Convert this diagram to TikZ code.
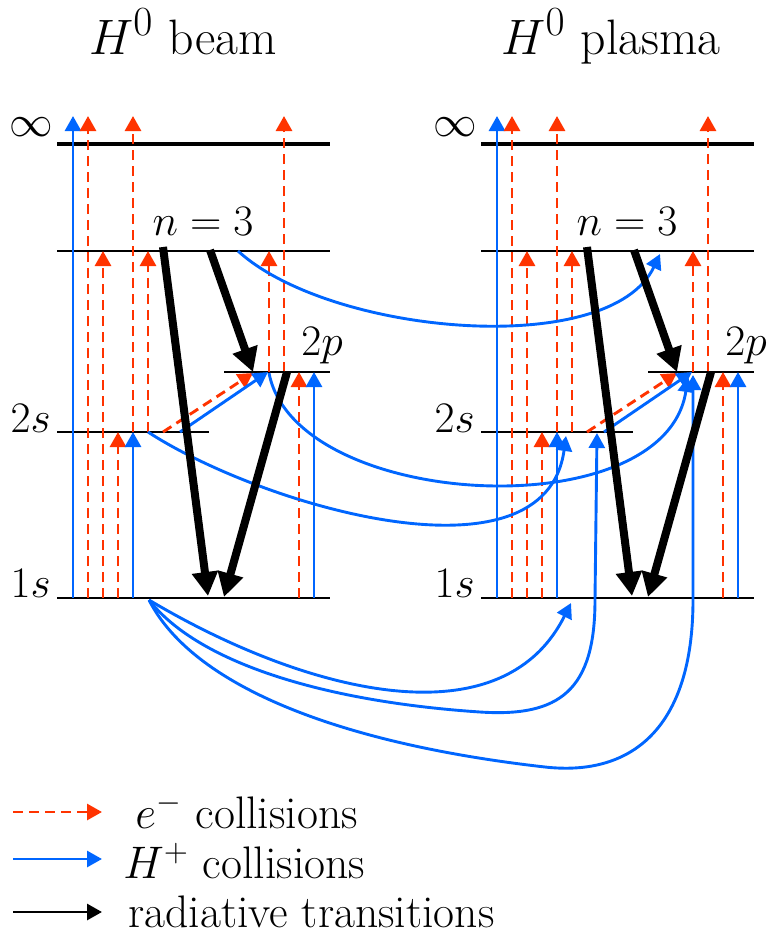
\documentclass[tikz,border=0pt]{standalone}
\usetikzlibrary{arrows.meta}
\definecolor{ered}{RGB}{255,51,0}
\definecolor{hblue}{RGB}{0,102,255}
\tikzset{
  lvl/.style={line width=1.3pt},
  lvltop/.style={line width=1.6pt},
  ecol/.style={draw=ered, line width=1.45pt, dash pattern=on 5pt off 3pt, -{Triangle[length=7.5pt,width=8pt]}},
  hcol/.style={draw=hblue, line width=1.45pt, -{Triangle[length=7.5pt,width=8pt]}},
  rad/.style={draw=black, line width=4pt, -{Triangle[length=12pt,width=12.5pt]}},
  legrad/.style={draw=black, line width=1.45pt, -{Triangle[length=7.5pt,width=8pt]}},
  lab/.style={font=\fontsize{20.74}{25}\selectfont, inner sep=0pt},
  ttl/.style={font=\fontsize{24.88}{30}\selectfont, inner sep=0pt},
}
\newcommand{\lvlabel}[1]{\scalebox{1.05}{#1}}
\newcommand{\leglabel}[1]{\scalebox{1.1}{#1}}
\newcommand{\mypanel}[1]{%
  % levels
  \draw[lvltop] (57,144) -- (330,144);
  \draw[lvl] (57,251) -- (330,251);
  \draw[lvl] (224,372) -- (330,372);
  \draw[lvl] (57,432) -- (209,432);
  \draw[lvl] (57,598) -- (330,598);
  % labels
  \node[lab, anchor=base east] (#1inf) at (53,136) {\lvlabel{$\infty$}};
  \node[lab, anchor=base] (#1n3) at (203,235) {\lvlabel{$n=3$}};
  \node[lab, anchor=base west] (#1p) at (301,355) {\lvlabel{$2p$}};
  \node[lab, anchor=base east] (#1s) at (51,432) {\lvlabel{$2s$}};
  \node[lab, anchor=base east] (#1g) at (51,597) {\lvlabel{$1s$}};
  % collisions
  \draw[hcol] (73,598) -- (73,116);
  \draw[ecol] (88,598) -- (88,116);
  \draw[ecol] (133,432) -- (133,116);
  \draw[ecol] (284,372) -- (284,116);
  \draw[ecol] (103,598) -- (103,251);
  \draw[ecol] (148,432) -- (148,251);
  \draw[ecol] (269,372) -- (269,251);
  \draw[ecol] (118,598) -- (118,432);
  \draw[hcol] (133,598) -- (133,432);
  \draw[ecol] (299,598) -- (299,372);
  \draw[hcol] (314,598) -- (314,372);
  \draw[ecol] (163,432) -- (253,373);
  \draw[hcol] (180,432) -- (268,372);
}
\newcommand{\myrad}{%
  \draw[rad] (163,247) -- (208,596);
  \draw[rad] (210,250) -- (253,372);
  \draw[rad] (287,372) -- (224,597);
}
\begin{document}
\begin{tikzpicture}[x=0.5pt,y=-0.5pt]
\useasboundingbox (0,0) rectangle (772,938);
\node[ttl, anchor=base] (tbeam) at (183,54) {$H^0$ beam};
\node[ttl, anchor=base] (tplasma) at (611,54) {$H^0$ plasma};
\mypanel{b}
\begin{scope}[xshift=212pt]
\mypanel{q}
\end{scope}
% cross-panel H+ collisions
\draw[hcol] (238,251) .. controls (330,335) and (610,360) .. (660,254);
\draw[hcol] (269,373) .. controls (295,510) and (665,530) .. (688,377);
\draw[hcol] (148,432) .. controls (260,505) and (545,590) .. (566,436);
\draw[hcol] (149,600) .. controls (300,690) and (500,745) .. (571,603);
\draw[hcol] (149,600) .. controls (200,665) and (330,702) .. (480,712) .. controls (560,717.3) and (595,690) .. (595,600) -- (597,433);
\draw[hcol] (149,600) .. controls (195,690) and (350,745) .. (545,767) .. controls (630,776.6) and (693,730) .. (693,600) -- (693,375);
\myrad
\begin{scope}[xshift=212pt]
\myrad
\end{scope}
% legend
\draw[ecol] (13,812) -- (102,812);
\node[lab, anchor=base west] (le) at (135,828) {\leglabel{$e^-$ collisions}};
\draw[hcol] (13,859) -- (102,859);
\node[lab, anchor=base west] (lh) at (123,878) {\leglabel{$H^+$ collisions}};
\draw[legrad] (13,912) -- (102,912);
\node[lab, anchor=base west] (lr) at (128,927) {\leglabel{radiative transitions}};
\end{tikzpicture}
\end{document}
